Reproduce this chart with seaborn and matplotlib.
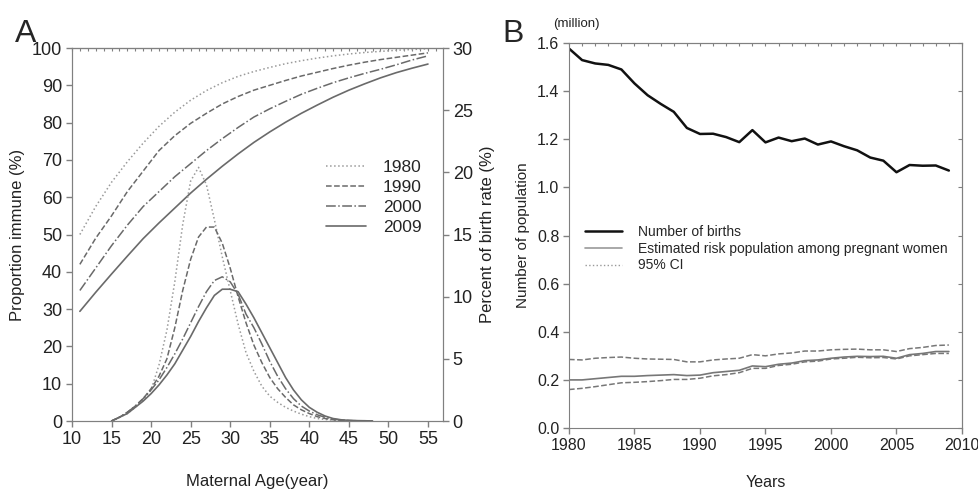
import numpy as np
import pandas as pd
import matplotlib
matplotlib.use("Agg")
import matplotlib.pyplot as plt
from matplotlib.lines import Line2D
from matplotlib.ticker import MultipleLocator, FormatStrFormatter
import seaborn as sns

# ---------------- Data: panel A ----------------
imm_age = [11, 13, 15, 17, 19, 21, 23, 25, 27, 29, 31, 33, 35, 37, 39, 41, 43, 45, 47, 49, 51, 53, 55]
imm_1980 = [50.0, 57.5, 64.0, 69.5, 74.5, 79.0, 82.8, 86.0, 88.6, 90.7, 92.4, 93.7, 94.8, 95.8, 96.6, 97.3, 97.9, 98.4, 98.8, 99.1, 99.4, 99.6, 99.8]
imm_1990 = [42.0, 49.0, 55.0, 61.5, 67.0, 72.5, 76.5, 79.8, 82.5, 85.0, 87.0, 88.7, 90.0, 91.3, 92.5, 93.5, 94.5, 95.4, 96.2, 96.9, 97.5, 98.1, 98.7]
imm_2000 = [35.0, 41.0, 47.0, 52.5, 57.5, 61.5, 65.5, 69.0, 72.5, 75.7, 78.7, 81.5, 83.7, 85.7, 87.6, 89.2, 90.7, 92.0, 93.2, 94.3, 95.5, 96.8, 97.9]
imm_2009 = [29.4, 34.5, 39.4, 44.2, 48.9, 53.1, 57.1, 61.1, 64.8, 68.3, 71.6, 74.7, 77.5, 80.1, 82.5, 84.7, 86.8, 88.7, 90.4, 92.0, 93.4, 94.6, 95.7]

br_age = list(range(15, 49))
br_1980 = [0, 0.3, 0.6, 1.1, 1.7, 2.5, 4.5, 7.3, 11.2, 15.8, 19.3, 20.4, 19.0, 16.2, 13.2, 10.5, 7.8, 5.5, 4.0, 2.8,
           2.0, 1.5, 1.1, 0.8, 0.55, 0.35, 0.2, 0.12, 0.07, 0.04, 0.02, 0.01, 0, 0]
br_1990 = [0, 0.3, 0.7, 1.2, 1.8, 2.6, 3.6, 5.0, 7.5, 10.5, 13.0, 14.8, 15.6, 15.6, 14.3, 12.3, 10.0, 7.9, 6.1, 4.7,
           3.5, 2.6, 1.9, 1.3, 0.9, 0.6, 0.35, 0.2, 0.1, 0.05, 0.03, 0.02, 0.01, 0]
br_2000 = [0, 0.3, 0.7, 1.2, 1.8, 2.5, 3.3, 4.3, 5.4, 6.6, 7.9, 9.2, 10.4, 11.3, 11.6, 11.2, 10.2, 8.6, 7.5, 6.2,
           4.8, 3.6, 2.6, 1.8, 1.2, 0.8, 0.5, 0.3, 0.15, 0.08, 0.04, 0.02, 0.01, 0]
br_2009 = [0, 0.3, 0.6, 1.1, 1.6, 2.2, 2.9, 3.7, 4.6, 5.7, 6.8, 8.0, 9.1, 10.1, 10.6, 10.6, 10.4, 9.4, 8.3, 7.1,
           5.9, 4.7, 3.5, 2.5, 1.7, 1.1, 0.7, 0.4, 0.2, 0.1, 0.05, 0.03, 0.02, 0]

# ---------------- Data: panel B ----------------
years = list(range(1980, 2010))
births = [1.577, 1.529, 1.515, 1.509, 1.490, 1.432, 1.383, 1.347, 1.314, 1.247, 1.222, 1.223, 1.209, 1.188, 1.238,
          1.187, 1.207, 1.192, 1.203, 1.178, 1.191, 1.171, 1.154, 1.124, 1.111, 1.063, 1.093, 1.090, 1.091, 1.070]
risk = [0.200, 0.200, 0.205, 0.210, 0.215, 0.215, 0.218, 0.220, 0.222, 0.218, 0.220, 0.230, 0.235, 0.240, 0.258,
        0.255, 0.265, 0.270, 0.280, 0.283, 0.290, 0.295, 0.298, 0.297, 0.298, 0.290, 0.305, 0.310, 0.318, 0.318]
ci_hi = [0.285, 0.283, 0.290, 0.293, 0.295, 0.290, 0.287, 0.286, 0.285, 0.275, 0.275, 0.283, 0.287, 0.290, 0.305,
         0.300, 0.308, 0.312, 0.320, 0.320, 0.325, 0.327, 0.328, 0.325, 0.325, 0.318, 0.330, 0.335, 0.343, 0.345]
ci_lo = [0.160, 0.165, 0.172, 0.180, 0.188, 0.190, 0.193, 0.197, 0.202, 0.202, 0.207, 0.217, 0.222, 0.230, 0.248,
         0.248, 0.260, 0.265, 0.275, 0.278, 0.287, 0.290, 0.294, 0.292, 0.293, 0.287, 0.300, 0.305, 0.310, 0.310]

legend_years = ["1980", "1990", "2000", "2009"]
legend_b = ["Number of births", "Estimated risk population among pregnant women", "95% CI"]

# ---------------- Style ----------------
sns.set_style("ticks")
plt.rcParams["font.family"] = ["Liberation Sans", "DejaVu Sans"]
plt.rcParams["axes.edgecolor"] = "#808080"
plt.rcParams["xtick.color"] = "#808080"
plt.rcParams["ytick.color"] = "#808080"
plt.rcParams["xtick.labelcolor"] = "#222222"
plt.rcParams["ytick.labelcolor"] = "#222222"

fig = plt.figure(figsize=(9.79, 4.92), dpi=100)
axA = fig.add_axes([0.0735, 0.1443, 0.379, 0.7581])
axA2 = axA.twinx()
axB = fig.add_axes([0.5812, 0.130, 0.4014, 0.7826])

styles = [(":", "#9a9a9a", 1.1), ("--", "#6a6a6a", 1.1), ("-.", "#6a6a6a", 1.1), ("-", "#6a6a6a", 1.2)]
imm_all = [imm_1980, imm_1990, imm_2000, imm_2009]
br_all = [br_1980, br_1990, br_2000, br_2009]

for (ls, col, lw), imm in zip(styles, imm_all):
    sns.lineplot(x=imm_age, y=imm, ax=axA, color=col, linestyle=ls, lw=lw, sort=False)
for (ls, col, lw), br in zip(styles, br_all):
    sns.lineplot(x=br_age, y=br, ax=axA2, color=col, linestyle=ls, lw=lw, sort=False)

axA.set_xlim(10, 56.9)
axA.set_ylim(0, 100)
axA2.set_ylim(0, 30)
axA.set_xticks(range(10, 60, 5))
axA.set_yticks(range(0, 101, 10))
axA2.set_yticks(range(0, 31, 5))
for a in (axA, axA2):
    a.tick_params(labelsize=13, length=4, width=1, pad=3)
    for s in a.spines.values():
        s.set_visible(True)
        s.set_color("#808080")
topA = axA.secondary_xaxis("top")
topA.xaxis.set_major_locator(MultipleLocator(1))
topA.tick_params(direction="in", length=2, labeltop=False, color="#808080")
topA.spines["top"].set_color("#808080")

axA.set_xlabel("Maternal Age(year)", fontsize=12, labelpad=19, color="#222222")
axA.set_ylabel("Proportion immune (%)", fontsize=12, labelpad=5, color="#222222")
axA2.set_ylabel("Percent of birth rate (%)", fontsize=12, labelpad=5, color="#222222")

handlesA = [Line2D([], [], color=c, linestyle=ls, lw=lw) for ls, c, lw in styles]
axA.legend(handlesA, legend_years, loc="center right", bbox_to_anchor=(0.985, 0.60), frameon=False,
           fontsize=12.5, handlelength=2.3, labelspacing=0.28, handletextpad=1.0)

# ---------------- Panel B ----------------
sns.lineplot(x=years, y=births, ax=axB, color="#111111", lw=1.8)
sns.lineplot(x=years, y=risk, ax=axB, color="#777777", lw=1.2)
sns.lineplot(x=years, y=ci_hi, ax=axB, color="#777777", lw=1.1, linestyle="--")
sns.lineplot(x=years, y=ci_lo, ax=axB, color="#777777", lw=1.1, linestyle="--")

axB.set_xlim(1980, 2010)
axB.set_ylim(0, 1.6)
axB.set_xticks(range(1980, 2011, 5))
axB.set_yticks(np.arange(0, 1.61, 0.2))
axB.yaxis.set_major_formatter(FormatStrFormatter("%.1f"))
axB.tick_params(labelsize=11.5, length=4, width=1, pad=3)
for s in axB.spines.values():
    s.set_visible(True)
    s.set_color("#808080")
topB = axB.secondary_xaxis("top")
topB.xaxis.set_major_locator(MultipleLocator(1))
topB.tick_params(direction="in", length=2, labeltop=False, color="#808080")
rightB = axB.secondary_yaxis("right")
rightB.yaxis.set_major_locator(MultipleLocator(0.2))
rightB.tick_params(direction="in", length=3, labelright=False, color="#808080")

axB.set_xlabel("Years", fontsize=11.5, labelpad=16, color="#222222")
axB.set_ylabel("Number of population", fontsize=11, labelpad=5, color="#222222")

handlesB = [Line2D([], [], color="#111111", lw=1.8),
            Line2D([], [], color="#999999", lw=1.2),
            Line2D([], [], color="#999999", lw=1.0, linestyle=":")]
axB.legend(handlesB, legend_b, loc="upper left", bbox_to_anchor=(0.01, 0.56), frameon=False,
           fontsize=10, handlelength=2.6, labelspacing=0.2, handletextpad=1.2)

fig.text(0.565, 0.945, "(million)", fontsize=9.5, color="#222222")
fig.text(0.015, 0.915, "A", fontsize=23)
fig.text(0.513, 0.915, "B", fontsize=23)

fig.savefig("out.png", dpi=100)
